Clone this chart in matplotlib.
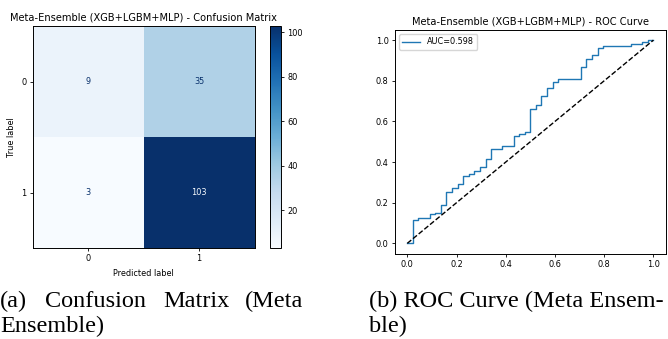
import numpy as np
import matplotlib
matplotlib.use('Agg')
import matplotlib.pyplot as plt

# confusion matrix of the meta ensemble
cm = np.array([[9, 35],
               [3, 103]])
class_labels = ['0', '1']

# ROC corner points
fpr = [0.0, 0.023, 0.045, 0.091, 0.114, 0.136, 0.159, 0.182, 0.205, 0.227, 0.25, 0.273,
       0.295, 0.318, 0.341, 0.386, 0.432, 0.455, 0.477, 0.5, 0.523, 0.545, 0.568, 0.591,
       0.614, 0.705, 0.727, 0.75, 0.773, 0.795, 0.909, 0.955, 0.977, 1.0]
tpr = [0.0, 0.113, 0.123, 0.142, 0.151, 0.189, 0.255, 0.274, 0.292, 0.330, 0.340, 0.358,
       0.377, 0.415, 0.462, 0.481, 0.528, 0.538, 0.547, 0.660, 0.679, 0.726, 0.764, 0.792,
       0.811, 0.868, 0.906, 0.925, 0.962, 0.972, 0.981, 0.991, 1.0, 1.0]
auc_value = 0.598

cm_title = 'Meta-Ensemble (XGB+LGBM+MLP) - Confusion Matrix'
roc_title = 'Meta-Ensemble (XGB+LGBM+MLP) - ROC Curve'
caption_a1 = ['(a)', 'Confusion', 'Matrix', '(Meta']
caption_a2 = 'Ensemble)'
caption_b1 = '(b) ROC Curve (Meta Ensem-'
caption_b2 = 'ble)'

W, H = 668, 339
fig = plt.figure(figsize=(W / 100, H / 100), dpi=100)
fs = 5.9
tfs = 7.1

def box(l, t, r, b):
    return [l / W, 1 - b / H, (r - l) / W, (b - t) / H]

# --- confusion matrix ---
ax1 = fig.add_axes(box(32.3, 26, 255, 248))
cmap = plt.cm.Blues
im = ax1.imshow(cm, cmap=cmap, vmin=cm.min(), vmax=cm.max())
thresh = (cm.max() + cm.min()) / 2.0
for i in range(cm.shape[0]):
    for j in range(cm.shape[1]):
        col = cmap(0) if cm[i, j] >= thresh else cmap(1.0)
        ax1.text(j, i, str(cm[i, j]), ha='center', va='center', color=col, fontsize=fs)
ax1.set_xticks(range(len(class_labels)))
ax1.set_xticklabels(class_labels)
ax1.set_yticks(range(len(class_labels)))
ax1.set_yticklabels(class_labels)
ax1.set_xlabel('Predicted label', fontsize=fs)
ax1.set_ylabel('True label', fontsize=fs)
ax1.tick_params(labelsize=fs, length=2.5, width=0.6, pad=2)
ax1.set_title(cm_title, fontsize=tfs, pad=4)
for s in ax1.spines.values():
    s.set_linewidth(0.7)

cax = fig.add_axes(box(270, 25.7, 281, 248))
cb = fig.colorbar(im, cax=cax)
cb.set_ticks([20, 40, 60, 80, 100])
cb.ax.tick_params(labelsize=fs, length=2.5, width=0.6, pad=2)
cb.outline.set_linewidth(0.7)

# --- ROC curve ---
ax2 = fig.add_axes(box(395, 30, 665.7, 253.5))
ax2.step(fpr, tpr, where='post', color='#1f77b4', lw=1.0, label='AUC=%.3f' % auc_value)
ax2.plot([0, 1], [0, 1], 'k--', lw=1.0)
ax2.set_title(roc_title, fontsize=tfs, pad=4)
ax2.set_xticks([0, 0.2, 0.4, 0.6, 0.8, 1.0])
ax2.set_yticks([0, 0.2, 0.4, 0.6, 0.8, 1.0])
ax2.tick_params(labelsize=fs, length=2.5, width=0.6, pad=2)
ax2.legend(loc='upper left', fontsize=fs, handlelength=2.2, borderpad=0.4)
for s in ax2.spines.values():
    s.set_linewidth(0.7)

# --- captions ---
cap = dict(fontsize=17.5, family='Liberation Serif', color='black', va='baseline')
word_x = [0, 45, 163, 245]
for w, x in zip(caption_a1, word_x):
    fig.text(x / W, 1 - 307 / H, w, ha='left', **cap)
fig.text(0 / W, 1 - 332 / H, caption_a2, ha='left', **cap)
fig.text(369 / W, 1 - 307 / H, caption_b1, ha='left', **cap)
fig.text(369 / W, 1 - 332 / H, caption_b2, ha='left', **cap)

fig.savefig('out.png', dpi=100)
